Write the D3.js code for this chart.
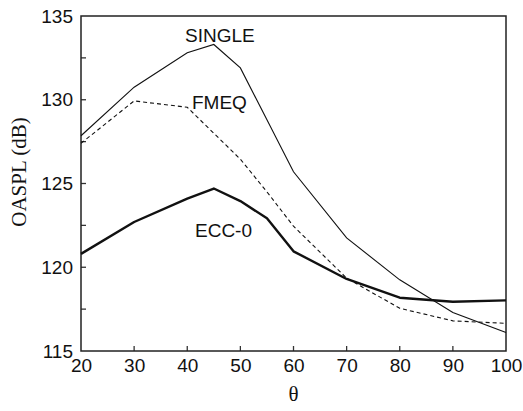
<!DOCTYPE html>
<meta charset="utf-8">
<style>
body { margin: 0; background: #fff; }
.tick text { font: 19px "Liberation Sans", Arial, sans-serif; fill: #111; }
.lbl { font: 19px "Liberation Sans", Arial, sans-serif; fill: #111; }
.title { font: 21px "Liberation Serif", "Times New Roman", serif; fill: #111; }
</style>
<body>
<svg width="523" height="411"></svg>
<script src="https://d3js.org/d3.v7.min.js"></script>
<script>

var theta = [20, 30, 40, 45, 50, 55, 60, 70, 80, 90, 100];
var single = [127.85, 130.75, 132.8, 133.3, 131.9, 128.8, 125.7, 121.75, 119.25, 117.3, 116.1];
var fmeq = [127.4, 129.93, 129.55, 128.0, 126.45, 124.5, 122.45, 119.35, 117.55, 116.8, 116.65];
var ecc0 = [120.8, 122.7, 124.1, 124.7, 123.95, 122.92, 120.95, 119.3, 118.18, 117.94, 118.02];
var xTicks = [20, 30, 40, 50, 60, 70, 80, 90, 100];
var yTicks = [115, 120, 125, 130, 135];
var yMinor = [117.5, 122.5, 127.5, 132.5];

var svg = d3.select("svg"),
    margin = {top: 16, right: 17, bottom: 60, left: 81},
    width = +svg.attr("width") - margin.left - margin.right,
    height = +svg.attr("height") - margin.top - margin.bottom,
    g = svg.append("g").attr("transform", "translate(" + margin.left + "," + margin.top + ")");

var x = d3.scaleLinear().domain([20, 100]).range([0, width]);
var y = d3.scaleLinear().domain([115, 135]).range([height, 0]);

// x axis: labels at every 10, ticks pointing inward
g.append("g")
    .attr("transform", "translate(0," + height + ")")
    .call(d3.axisBottom(x).tickValues(xTicks).tickSize(0).tickPadding(8))
    .call(function(a) { a.select(".domain").remove(); });

g.append("g").selectAll("line.xt")
    .data(xTicks.slice(1, -1))
    .enter().append("line")
    .attr("x1", function(d) { return x(d); })
    .attr("x2", function(d) { return x(d); })
    .attr("y1", height).attr("y2", height - 5)
    .attr("stroke", "#333").attr("stroke-width", 1.3);

g.append("g")
    .call(d3.axisLeft(y).tickValues(yTicks).tickSize(0).tickPadding(8))
    .call(function(a) { a.select(".domain").remove(); });

g.append("g").selectAll("line.yt")
    .data(yTicks.slice(1, -1).concat(yMinor))
    .enter().append("line")
    .attr("x1", 0).attr("x2", 5)
    .attr("y1", function(d) { return y(d); })
    .attr("y2", function(d) { return y(d); })
    .attr("stroke", "#333").attr("stroke-width", 1.3);

// frame
g.append("rect")
    .attr("width", width).attr("height", height)
    .attr("fill", "none").attr("stroke", "#222").attr("stroke-width", 1.5);

function series(vals) {
    return d3.line()
        .x(function(d, i) { return x(theta[i]); })
        .y(function(d) { return y(d); })(vals);
}

g.append("path").attr("d", series(single))
    .attr("fill", "none").attr("stroke", "#111").attr("stroke-width", 1.1);
g.append("path").attr("d", series(fmeq))
    .attr("fill", "none").attr("stroke", "#111").attr("stroke-width", 1.1)
    .attr("stroke-dasharray", "4,3");
g.append("path").attr("d", series(ecc0))
    .attr("fill", "none").attr("stroke", "#111").attr("stroke-width", 2.4)
    .attr("stroke-linejoin", "round");

svg.append("text").attr("class", "lbl").attr("x", 185).attr("y", 42).text("SINGLE");
svg.append("text").attr("class", "lbl").attr("x", 192).attr("y", 109).text("FMEQ");
svg.append("text").attr("class", "lbl").attr("x", 195).attr("y", 237).text("ECC-0");

svg.append("text").attr("class", "title")
    .attr("text-anchor", "middle")
    .attr("x", margin.left + width / 2).attr("y", 401)
    .text("\u03b8");

svg.append("text").attr("class", "title")
    .attr("text-anchor", "middle")
    .attr("transform", "translate(26,172) rotate(-90)")
    .text("OASPL (dB)");

</script>
